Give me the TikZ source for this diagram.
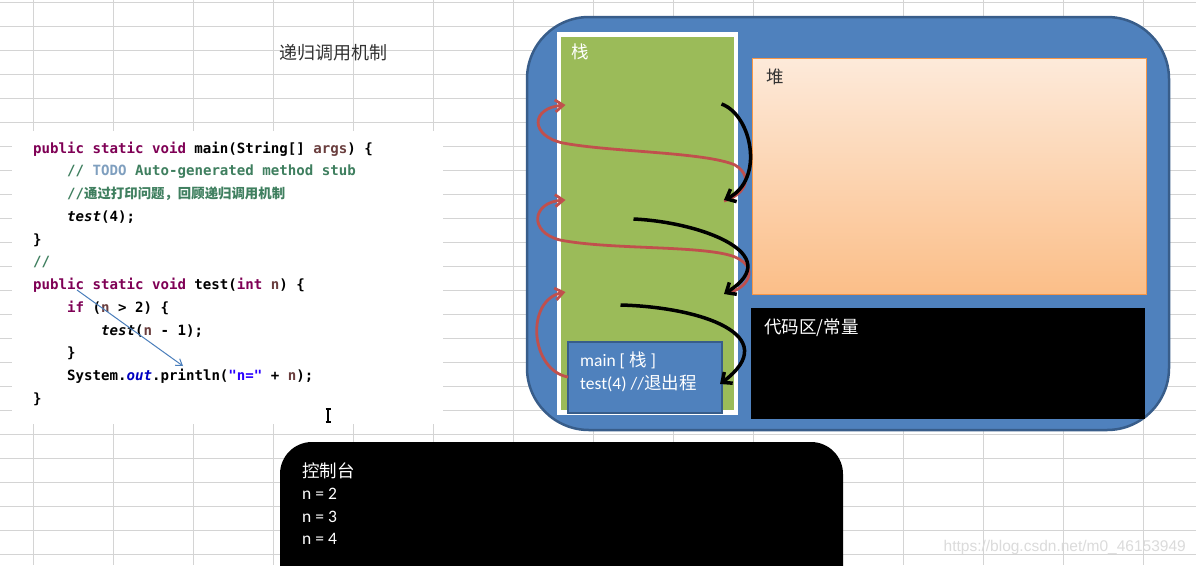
\documentclass[tikz,border=0pt]{standalone}
\usepackage{fontspec}
\setmainfont{Carlito}
\newfontfamily\cjk{Noto Sans CJK SC}
\newfontfamily\codefont{DejaVu Sans Mono}
\newfontfamily\urlfont{Liberation Sans}
\usetikzlibrary{arrows.meta}

\definecolor{gridgray}{HTML}{D4D4D4}
\definecolor{memblue}{HTML}{4F81BD}
\definecolor{memedge}{HTML}{385D8A}
\definecolor{stackgreen}{HTML}{9BBB59}
\definecolor{heaptop}{HTML}{FDEADA}
\definecolor{heapbot}{HTML}{FBBE88}
\definecolor{heapedge}{HTML}{F79646}
\definecolor{backred}{HTML}{C0504D}
\definecolor{kwcol}{HTML}{7F0055}
\definecolor{cmcol}{HTML}{3F7F5F}
\definecolor{todocol}{HTML}{7F9FBF}
\definecolor{varcol}{HTML}{6A3E3E}
\definecolor{strcol}{HTML}{2A00FF}
\definecolor{fieldcol}{HTML}{0000C0}
\definecolor{callblue}{HTML}{4A7EBB}

\newcommand{\kw}[1]{\textcolor{kwcol}{#1}}
\newcommand{\cm}[1]{\textcolor{cmcol}{#1}}
\newcommand{\vr}[1]{\textcolor{varcol}{#1}}
\newcommand{\zh}[1]{{\cjk #1}}

\begin{document}
\begin{tikzpicture}[x=1pt,y=-1pt,
  gridline/.style={gridgray,line width=1},
  box/.style={inner sep=0,outer sep=0,anchor=north west},
  lbl/.style={inner sep=0,anchor=west,text=white,font=\fontsize{17.5}{21}\selectfont},
  codeline/.style={inner sep=0,anchor=base west,font=\codefont\bfseries\fontsize{14.1}{17}\selectfont},
  callarrow/.style={black,line width=3.5,-{Straight Barb[length=8pt,width=14pt]}},
  backarrow/.style={backred,line width=2.8,-{Straight Barb[length=8pt,width=12pt]}}]
\clip (0,0) rectangle (1196,565);
\fill[white] (0,0) rectangle (1196,565);
% spreadsheet grid
\foreach \x in {33,113,193,273,353,433,513,593,673,753,903,983,1063,1143}
  \draw[gridline] (\x,0) -- (\x,565);
\foreach \k in {0,...,23}
  \draw[gridline] (0,2.7+24*\k) -- (1196,2.7+24*\k);

\node (title) at (333,53) {\cjk\fontsize{18}{21}\selectfont\color{black!80}递归调用机制};

% code
\fill[white] (12,131) rectangle (443,424);
\node[codeline] (c1) at (33,153) {\kw{public} \kw{static} \kw{void} main(String[] \vr{args}) \{};
\node[codeline] (c2) at (67,175.8) {\cm{//} \textcolor{todocol}{TODO} \cm{Auto-generated method stub}};
\node[codeline] (c3) at (67,198.5) {\cm{//{\cjk\fontsize{13.4}{16}\selectfont 通过打印问题，回顾递归调用机制}}};
\node[codeline] (c4) at (67,221.3) {\textit{test}(4);};
\node[codeline] (c5) at (33,244.1) {\}};
\node[codeline] (c6) at (33,266.9) {\cm{//}};
\node[codeline] (c7) at (33,289.6) {\kw{public} \kw{static} \kw{void} test(\kw{int} \vr{n}) \{};
\node[codeline] (c8) at (67,312.4) {\kw{if} (\vr{n} > 2) \{};
\node[codeline] (c9) at (101,335.2) {\textit{test}(\vr{n} - 1);};
\node[codeline] (c10) at (67,357.9) {\}};
\node[codeline] (c11) at (67,380.7) {System.\textcolor{fieldcol}{\textit{out}}.println(\textcolor{strcol}{"n="} + \vr{n});};
\node[codeline] (c12) at (33,403.5) {\}};
\coordinate (callfrom) at (77,290);
\coordinate (callto) at (183,366);
\draw[callblue,line width=1,-{Straight Barb[length=6pt,width=8pt]}] (callfrom) -- (callto);
% text cursor
\draw[line width=1.2] (328,409) -- (328,422) (325.5,409) -- (330.5,409) (325.5,422) -- (330.5,422);

% memory
\node[box,draw=memedge,line width=2.5,fill=memblue,rounded corners=62,minimum width=642,minimum height=413] (mem) at (527,17) {};
\node[box,fill=white,minimum width=181,minimum height=383] (stack) at (556.5,31.5) {};
\node[box,fill=stackgreen,minimum width=172.5,minimum height=373] (stackin) at (561,36.5) {};
\node[lbl] at (571,52) {\zh{栈}};
\node[box,draw=heapedge,line width=1.2,top color=heaptop,bottom color=heapbot,minimum width=394,minimum height=236] (heap) at (752.5,58.5) {};
\node[lbl,text=black!80] at (766,76.5) {\zh{堆}};
\node[box,fill=black,minimum width=394,minimum height=111] (codearea) at (751,308) {};
\node[lbl] at (764,328) {\zh{代码区/常量}};
\node[box,draw=memedge,line width=2,fill=memblue,minimum width=154,minimum height=71] (mainbox) at (568,341.5) {};
\node[lbl] (frame1) at (580,360) {main [ \zh{栈} ]};
\node[lbl] (frame2) at (580,383) {test(4) //\zh{退出程}};

% calls and returns
\coordinate (r1a) at (724,201);
\coordinate (r1b) at (565.5,105);
\coordinate (r2a) at (728,293);
\coordinate (r2b) at (565.5,200);
\coordinate (r3a) at (568,377);
\coordinate (r3b) at (565.5,292);
\draw[backarrow] (r1a) .. controls (742,196) and (756,178) .. (735,165) .. controls (705,152) and (610,152) .. (563,143) .. controls (530,136) and (530,108) .. (r1b);
\draw[backarrow] (r2a) .. controls (748,288) and (760,268) .. (735,257) .. controls (705,245) and (610,250) .. (560,240) .. controls (528,232) and (532,202) .. (r2b);
\draw[backarrow] (r3a) .. controls (530,370) and (525,300) .. (r3b);
\coordinate (k1a) at (721.5,104);
\coordinate (k1b) at (724,200);
\coordinate (k2a) at (633.5,219);
\coordinate (k2b) at (724,294);
\coordinate (k3a) at (620.5,305);
\coordinate (k3b) at (720,384);
\draw[callarrow] (k1a) .. controls (752,115) and (765,180) .. (k1b);
\draw[callarrow] (k2a) .. controls (700,222) and (788,254) .. (k2b);
\draw[callarrow] (k3a) .. controls (700,307) and (785,335) .. (k3b);

% console
\node[box,fill=black,rounded corners=32,minimum width=563,minimum height=180] (console) at (280,442) {};
\node[lbl] (out0) at (302,471) {\zh{控制台}};
\node[lbl] (out1) at (302,493.5) {n = 2};
\node[lbl] (out2) at (302,516.5) {n = 3};
\node[lbl] (out3) at (302,539) {n = 4};

\node[inner sep=0,anchor=east,text=black!14,font=\urlfont\fontsize{15.5}{18}\selectfont] (wm) at (1186,547) {https://blog.csdn.net/m0\_46153949};
\end{tikzpicture}
\end{document}
